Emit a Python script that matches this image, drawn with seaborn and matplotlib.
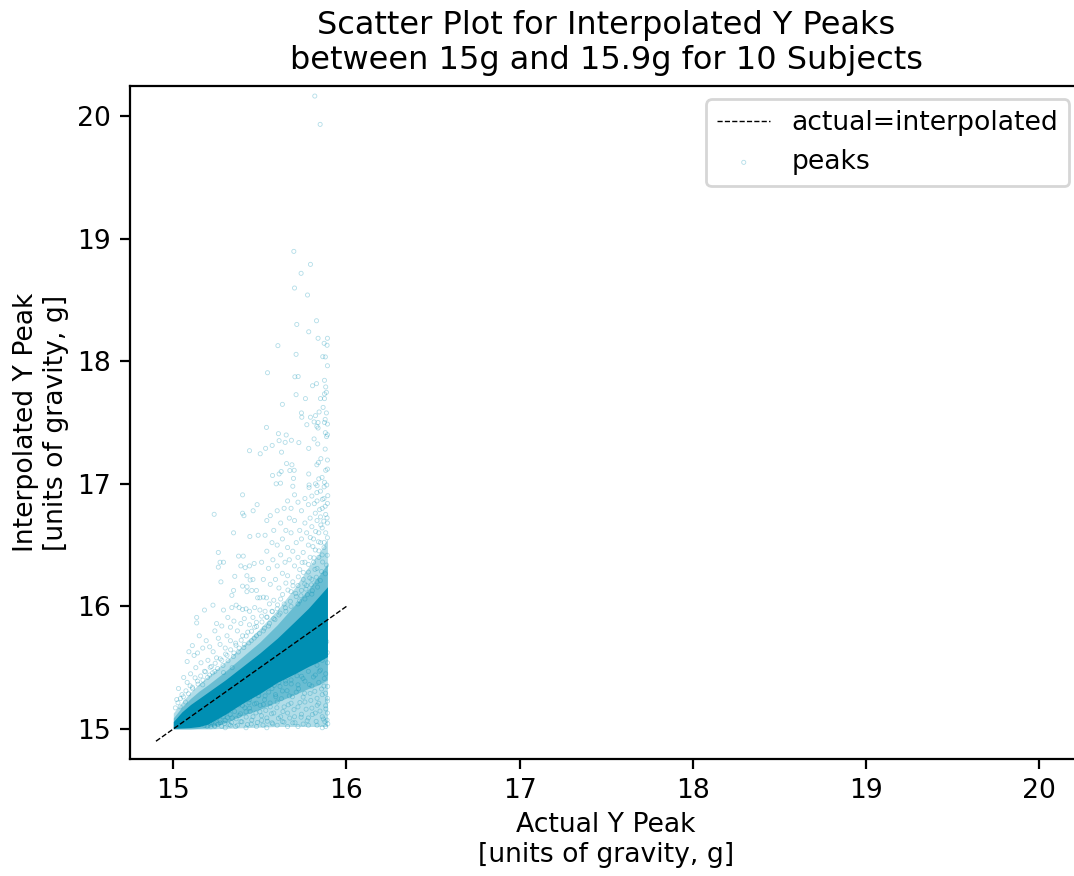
import matplotlib
matplotlib.use("Agg")
import matplotlib.pyplot as plt
import pandas as pd
import seaborn as sns

TITLE = "Scatter Plot for Interpolated Y Peaks\nbetween 15g and 15.9g for 10 Subjects"
XLABEL = "Actual Y Peak\n[units of gravity, g]"
YLABEL = "Interpolated Y Peak\n[units of gravity, g]"
TICKS = [15, 16, 17, 18, 19, 20]
IDENTITY = [14.9, 16.0]

band_x = [15.0, 15.05, 15.1, 15.15, 15.2, 15.3, 15.4, 15.5, 15.6, 15.7, 15.78, 15.84, 15.89]
core_low = [15.005, 15.008, 15.012, 15.02, 15.04, 15.12, 15.21, 15.29, 15.38, 15.45, 15.51, 15.55, 15.59]
core_high = [15.06, 15.14, 15.20, 15.25, 15.30, 15.40, 15.51, 15.62, 15.74, 15.875, 15.985, 16.08, 16.16]
# Medium-density zones around the band: inner, then outer
inner_low = [15.0, 15.0, 15.0, 15.005, 15.01, 15.05, 15.11, 15.16, 15.22, 15.28, 15.33, 15.36, 15.40]
inner_high = [15.09, 15.18, 15.25, 15.31, 15.36, 15.47, 15.59, 15.71, 15.85, 16.01, 16.14, 16.25, 16.35]
outer_low = [15.0, 15.0, 15.0, 15.0, 15.0, 15.005, 15.01, 15.015, 15.02, 15.02, 15.02, 15.02, 15.02]
outer_high = [15.13, 15.22, 15.30, 15.37, 15.43, 15.55, 15.68, 15.82, 15.97, 16.15, 16.32, 16.43, 16.55]

top_peaks = [
    (15.817, 20.163), (15.848, 19.932), (15.696, 18.896), (15.792, 18.79), (15.738, 18.717),
    (15.70, 18.597), (15.775, 18.54), (15.827, 18.33), (15.713, 18.30), (15.782, 18.24),
    (15.836, 18.187), (15.89, 18.187), (15.871, 18.146), (15.888, 18.13), (15.604, 18.127),
    (15.709, 18.056), (15.863, 18.037), (15.878, 18.035), (15.89, 17.963), (15.544, 17.906),
    (15.702, 17.873), (15.721, 17.875), (15.873, 17.844), (15.827, 17.817), (15.804, 17.80),
    (15.88, 17.79), (15.884, 17.746), (15.873, 17.733), (15.709, 17.727), (15.763, 17.695),
    (15.85, 17.695), (15.873, 17.695), (15.63, 17.648), (15.865, 17.623), (15.842, 17.586),
    (15.74, 17.578), (15.884, 17.578), (15.821, 17.556), (15.742, 17.543), (15.792, 17.543),
    (15.877, 17.525), (15.813, 17.505), (15.836, 17.50), (15.873, 17.50), (15.89, 17.487),
    (15.771, 17.482), (15.829, 17.469), (15.836, 17.455), (15.538, 17.46), (15.607, 17.409),
    (15.652, 17.398), (15.878, 17.417), (15.89, 17.40), (15.885, 17.385), (15.611, 17.352),
    (15.646, 17.338), (15.682, 17.355), (15.725, 17.336), (15.813, 17.366), (15.834, 17.325),
    (15.571, 17.313), (15.533, 17.289), (15.44, 17.27), (15.502, 17.245), (15.625, 17.258),
    (15.782, 17.289), (15.877, 17.283), (15.852, 17.205), (15.89, 17.194), (15.838, 17.173),
    (15.829, 17.155), (15.654, 17.165), (15.685, 17.155), (15.89, 17.12), (15.88, 17.11),
    (15.623, 17.10), (15.673, 17.108), (15.698, 17.11), (15.611, 17.08), (15.573, 17.068),
    (15.782, 17.08), (15.859, 17.052), (15.84, 17.04), (15.694, 17.044), (15.873, 17.012),
    (15.594, 17.0), (15.619, 17.005), (15.821, 17.0), (15.83, 16.985), (15.69, 16.98),
    (15.784, 16.99), (15.886, 16.99), (15.871, 16.975), (15.784, 16.97),
]

upper_peaks = [
    (15.236, 16.751), (15.40, 16.91), (15.484, 16.83), (15.461, 16.78), (15.40, 16.76),
    (15.408, 16.74), (15.348, 16.60), (15.442, 16.57), (15.49, 16.58), (15.26, 16.44),
    (15.27, 16.36), (15.29, 16.36), (15.26, 16.32), (15.275, 16.20), (15.355, 16.245),
    (15.377, 16.41), (15.404, 16.41), (15.39, 16.33), (15.415, 16.316), (15.44, 16.33),
    (15.467, 16.35), (15.425, 16.25), (15.444, 16.215), (15.46, 16.22), (15.40, 16.165),
    (15.426, 16.16), (15.348, 16.13), (15.338, 16.09), (15.453, 16.13), (15.48, 16.13),
    (15.425, 16.12), (15.487, 16.07), (15.50, 16.07), (15.52, 16.075), (15.538, 16.07),
    (15.229, 16.01), (15.18, 15.97), (15.135, 15.91), (15.135, 15.865), (15.29, 15.97),
    (15.315, 15.91), (15.338, 15.99), (15.363, 16.01), (15.38, 15.99), (15.40, 15.975),
    (15.42, 15.98), (15.44, 15.96), (15.47, 15.99), (15.50, 15.97), (15.53, 15.96),
    (15.555, 16.02), (15.58, 16.05), (15.60, 15.98), (15.62, 16.06), (15.64, 16.02),
    (15.56, 16.18), (15.59, 16.22), (15.61, 16.15), (15.63, 16.27), (15.65, 16.19),
    (15.55, 16.31), (15.575, 16.38), (15.60, 16.33), (15.62, 16.42), (15.645, 16.36),
    (15.52, 16.22), (15.54, 16.45), (15.51, 16.36), (15.57, 16.52), (15.53, 16.58),
    (15.60, 16.50), (15.63, 16.55), (15.66, 16.48), (15.58, 16.62), (15.62, 16.68),
    (15.65, 16.62), (15.67, 16.72), (15.56, 16.74), (15.54, 16.70), (15.60, 16.78),
    (15.64, 16.80), (15.66, 16.86), (15.68, 16.80), (15.70, 16.91), (15.72, 16.85),
    (15.74, 16.78), (15.76, 16.88), (15.78, 16.83), (15.80, 16.90), (15.83, 16.86),
    (15.85, 16.94), (15.87, 16.88), (15.89, 16.84), (15.86, 16.80), (15.82, 16.76),
    (15.79, 16.72), (15.76, 16.68), (15.73, 16.62), (15.70, 16.70), (15.68, 16.60),
    (15.71, 16.52), (15.74, 16.55), (15.77, 16.60), (15.80, 16.65), (15.83, 16.70),
    (15.85, 16.73), (15.88, 16.75), (15.89, 16.68), (15.86, 16.64), (15.84, 16.60),
    (15.81, 16.55), (15.78, 16.50), (15.75, 16.44), (15.72, 16.40), (15.69, 16.45),
    (15.67, 16.38), (15.70, 16.33), (15.73, 16.30), (15.76, 16.36), (15.79, 16.40),
    (15.82, 16.46), (15.85, 16.52), (15.88, 16.60), (15.89, 16.56), (15.66, 16.25),
    (15.69, 16.20), (15.68, 16.12), (15.72, 16.17), (15.75, 16.22), (15.78, 16.28),
    (15.71, 16.08), (15.74, 16.13), (15.77, 16.17), (15.80, 16.22), (15.83, 16.31),
    (15.86, 16.42), (15.81, 16.36), (15.84, 16.40), (15.87, 16.48), (15.83, 16.20),
    (15.15, 15.76), (15.11, 15.68), (15.09, 15.63), (15.12, 15.60), (15.08, 15.55),
    (15.14, 15.62), (15.17, 15.66), (15.19, 15.72), (15.21, 15.67), (15.24, 15.80),
    (15.23, 15.63), (15.26, 15.74), (15.28, 15.84), (15.25, 15.86), (15.31, 15.76),
    (15.33, 15.83), (15.35, 15.88), (15.37, 15.80), (15.39, 15.86), (15.41, 15.90),
    (15.44, 15.85), (15.46, 15.91), (15.48, 15.87), (15.51, 15.92), (15.27, 15.69),
    (15.30, 15.66), (15.33, 15.72), (15.36, 15.70), (15.40, 15.76), (15.43, 15.79),
    (15.06, 15.42), (15.03, 15.33), (15.05, 15.28), (15.02, 15.24), (15.08, 15.38),
    (15.10, 15.45), (15.13, 15.50), (15.16, 15.54), (15.18, 15.47), (15.20, 15.56),
    (15.22, 15.51), (15.25, 15.58), (15.07, 15.22), (15.04, 15.18), (15.11, 15.34),
    (15.14, 15.39), (15.17, 15.36), (15.21, 15.44), (15.24, 15.47), (15.28, 15.56),
    (15.31, 15.60), (15.35, 15.62), (15.38, 15.66), (15.41, 15.69), (15.45, 15.72),
    (15.48, 15.76), (15.52, 15.80), (15.55, 15.84), (15.58, 15.90), (15.61, 15.93),
    (15.65, 15.96), (15.68, 16.00), (15.72, 16.02), (15.76, 16.06), (15.80, 16.10),
    (15.47, 15.83), (15.54, 15.91), (15.57, 15.96), (15.34, 15.50), (15.29, 15.46),
]

edge_peaks = [
    (15.012, 15.172), (15.027, 15.214), (15.041, 15.248), (15.058, 15.262), (15.073, 15.311),
    (15.088, 15.287), (15.097, 15.352), (15.112, 15.328), (15.126, 15.417), (15.143, 15.366),
    (15.158, 15.432), (15.171, 15.398), (15.186, 15.466), (15.198, 15.421), (15.213, 15.503),
    (15.227, 15.458), (15.242, 15.536), (15.256, 15.493), (15.271, 15.572), (15.287, 15.518),
    (15.302, 15.611), (15.316, 15.557), (15.331, 15.646), (15.347, 15.591), (15.362, 15.683),
    (15.376, 15.628), (15.392, 15.724), (15.407, 15.664), (15.421, 15.758), (15.436, 15.702),
    (15.452, 15.797), (15.467, 15.741), (15.481, 15.836), (15.497, 15.778), (15.512, 15.873),
    (15.526, 15.822), (15.541, 15.914), (15.556, 15.861), (15.572, 15.957), (15.587, 15.892),
    (15.602, 16.012), (15.617, 15.945), (15.631, 16.097), (15.647, 15.988), (15.662, 16.133),
    (15.676, 16.041), (15.691, 16.168), (15.707, 16.106), (15.722, 16.241), (15.737, 16.087),
    (15.751, 16.277), (15.766, 16.141), (15.781, 16.342), (15.797, 16.176), (15.812, 16.396),
    (15.826, 16.238), (15.841, 16.453), (15.856, 16.284), (15.871, 16.522), (15.885, 16.337),
    (15.889, 16.417), (15.878, 16.266), (15.862, 16.362), (15.849, 16.211), (15.833, 16.157),
    (15.818, 16.302), (15.803, 16.128), (15.788, 16.232), (15.774, 16.096), (15.759, 16.183),
    (15.744, 16.358), (15.729, 16.044), (15.888, 16.722), (15.869, 16.695), (15.852, 16.664),
    (15.838, 16.527), (15.822, 16.611), (15.806, 16.488), (15.791, 16.562), (15.892, 16.903),
    (15.877, 16.817), (15.861, 16.873), (15.845, 16.789), (15.829, 16.928), (15.814, 16.838),
    (15.892, 15.042), (15.881, 15.164), (15.879, 15.292), (15.866, 15.081), (15.872, 15.412),
    (15.847, 15.146), (15.856, 15.326), (15.843, 15.471), (15.825, 15.062), (15.831, 15.193),
    (15.817, 15.307), (15.809, 15.424), (15.803, 15.118), (15.794, 15.233), (15.786, 15.362),
    (15.773, 15.067), (15.767, 15.161), (15.758, 15.291), (15.749, 15.412), (15.738, 15.096),
    (15.731, 15.216), (15.723, 15.328), (15.714, 15.434), (15.703, 15.051), (15.697, 15.158),
    (15.688, 15.263), (15.681, 15.367), (15.672, 15.089), (15.664, 15.197), (15.657, 15.312),
    (15.648, 15.391), (15.639, 15.056), (15.633, 15.142), (15.624, 15.247), (15.616, 15.346),
    (15.607, 15.087), (15.598, 15.173), (15.592, 15.263), (15.583, 15.356), (15.574, 15.041),
    (15.567, 15.124), (15.559, 15.212), (15.551, 15.301), (15.543, 15.063), (15.534, 15.151),
    (15.527, 15.238), (15.518, 15.031), (15.509, 15.108), (15.502, 15.193), (15.494, 15.272),
    (15.486, 15.053), (15.477, 15.131), (15.469, 15.204), (15.461, 15.284), (15.453, 15.072),
    (15.444, 15.142), (15.437, 15.214), (15.428, 15.036), (15.421, 15.097), (15.413, 15.173),
    (15.404, 15.228), (15.396, 15.058), (15.388, 15.124), (15.379, 15.197), (15.371, 15.031),
    (15.363, 15.083), (15.354, 15.143), (15.346, 15.189), (15.337, 15.052), (15.329, 15.118),
    (15.322, 15.037), (15.313, 15.092), (15.304, 15.134), (15.296, 15.046), (15.288, 15.103),
    (15.279, 15.022), (15.271, 15.071), (15.263, 15.118), (15.254, 15.036), (15.246, 15.081),
    (15.238, 15.027), (15.229, 15.064), (15.217, 15.018), (15.209, 15.047), (15.196, 15.021),
    (15.886, 15.712), (15.889, 15.623), (15.891, 15.347), (15.89, 15.228), (15.888, 15.072),
]

lower_peaks = [
    (15.24, 15.02), (15.27, 15.05), (15.30, 15.01), (15.33, 15.03), (15.36, 15.02),
    (15.39, 15.06), (15.42, 15.01), (15.45, 15.04), (15.48, 15.02), (15.51, 15.07),
    (15.54, 15.01), (15.57, 15.05), (15.60, 15.03), (15.63, 15.06), (15.66, 15.02),
    (15.69, 15.05), (15.72, 15.02), (15.75, 15.04), (15.78, 15.03), (15.83, 15.03),
    (15.86, 15.01), (15.88, 15.02), (15.875, 15.06), (15.38, 15.11), (15.42, 15.14),
    (15.46, 15.10), (15.50, 15.14), (15.54, 15.09), (15.58, 15.13), (15.62, 15.10),
    (15.66, 15.13), (15.70, 15.10), (15.74, 15.12), (15.78, 15.09), (15.82, 15.13),
    (15.86, 15.10), (15.89, 15.13), (15.52, 15.20), (15.56, 15.18), (15.60, 15.22),
    (15.64, 15.18), (15.68, 15.21), (15.72, 15.18), (15.76, 15.22), (15.80, 15.17),
    (15.84, 15.21), (15.88, 15.19), (15.89, 15.25), (15.86, 15.28), (15.83, 15.25),
    (15.79, 15.29), (15.75, 15.26), (15.71, 15.30), (15.67, 15.27), (15.63, 15.31),
    (15.59, 15.28), (15.87, 15.35), (15.84, 15.38), (15.80, 15.35), (15.76, 15.39),
    (15.72, 15.36), (15.68, 15.40), (15.65, 15.37), (15.88, 15.45), (15.85, 15.48),
    (15.82, 15.44), (15.78, 15.47), (15.74, 15.43), (15.89, 15.54), (15.86, 15.56),
    (15.83, 15.52), (15.30, 15.07), (15.34, 15.09), (15.26, 15.04), (15.22, 15.05),
    (15.18, 15.03), (15.20, 15.08), (15.40, 15.19), (15.44, 15.24), (15.48, 15.21),
    (15.44, 15.17), (15.49, 15.27), (15.53, 15.27), (15.57, 15.33), (15.61, 15.38),
]

sns.set_theme(style="ticks", rc={
    "font.size": 9.6,
    "axes.labelsize": 9.6,
    "axes.titlesize": 11.52,
    "xtick.labelsize": 9.6,
    "ytick.labelsize": 9.6,
    "legend.fontsize": 9.6,
    "axes.linewidth": 0.8,
    "axes.labelpad": 2.6,
    "xtick.major.size": 3.5,
    "ytick.major.size": 3.5,
    "xtick.major.width": 0.8,
    "ytick.major.width": 0.8,
    "axes.spines.top": True,
    "axes.spines.right": True,
    "text.color": "black",
    "axes.labelcolor": "black",
    "xtick.color": "black",
    "ytick.color": "black",
    "axes.edgecolor": "black",
})
plt.rcParams["font.family"] = ["DejaVu Sans"]

POINT = "#008fb3"

all_peaks = top_peaks + upper_peaks + edge_peaks + lower_peaks
df = pd.DataFrame(all_peaks, columns=["actual", "interpolated"])

fig = plt.figure(figsize=(5.37, 4.38), dpi=200)
ax = fig.add_axes([130 / 1074, 1 - 759 / 876, (1082.5 - 130) / 1074, (759 - 86) / 876])

ax.fill_between(band_x, outer_low, outer_high, color=POINT, alpha=0.3, linewidth=0, zorder=1)
ax.fill_between(band_x, inner_low, inner_high, color=POINT, alpha=0.4, linewidth=0, zorder=1.2)
ax.fill_between(band_x, core_low, core_high, color=POINT, alpha=1, linewidth=0, zorder=1.5)
ax.plot(IDENTITY, IDENTITY, color="black", linestyle="--", linewidth=0.5, zorder=3,
        label="actual=interpolated")
sns.scatterplot(data=df, x="actual", y="interpolated", ax=ax, marker="o", s=2.2,
                facecolor="none", edgecolor=POINT, linewidth=0.3, alpha=0.3, zorder=2,
                label="peaks")

ax.set_xlim(14.75, 20.25)
ax.set_ylim(14.755, 20.245)
ax.set_xticks(TICKS)
ax.set_yticks(TICKS)
ax.set_xlabel(XLABEL)
ax.set_ylabel(YLABEL)
ax.set_title(TITLE)
ax.legend(loc="upper right")

fig.savefig("out.png", dpi=200)
